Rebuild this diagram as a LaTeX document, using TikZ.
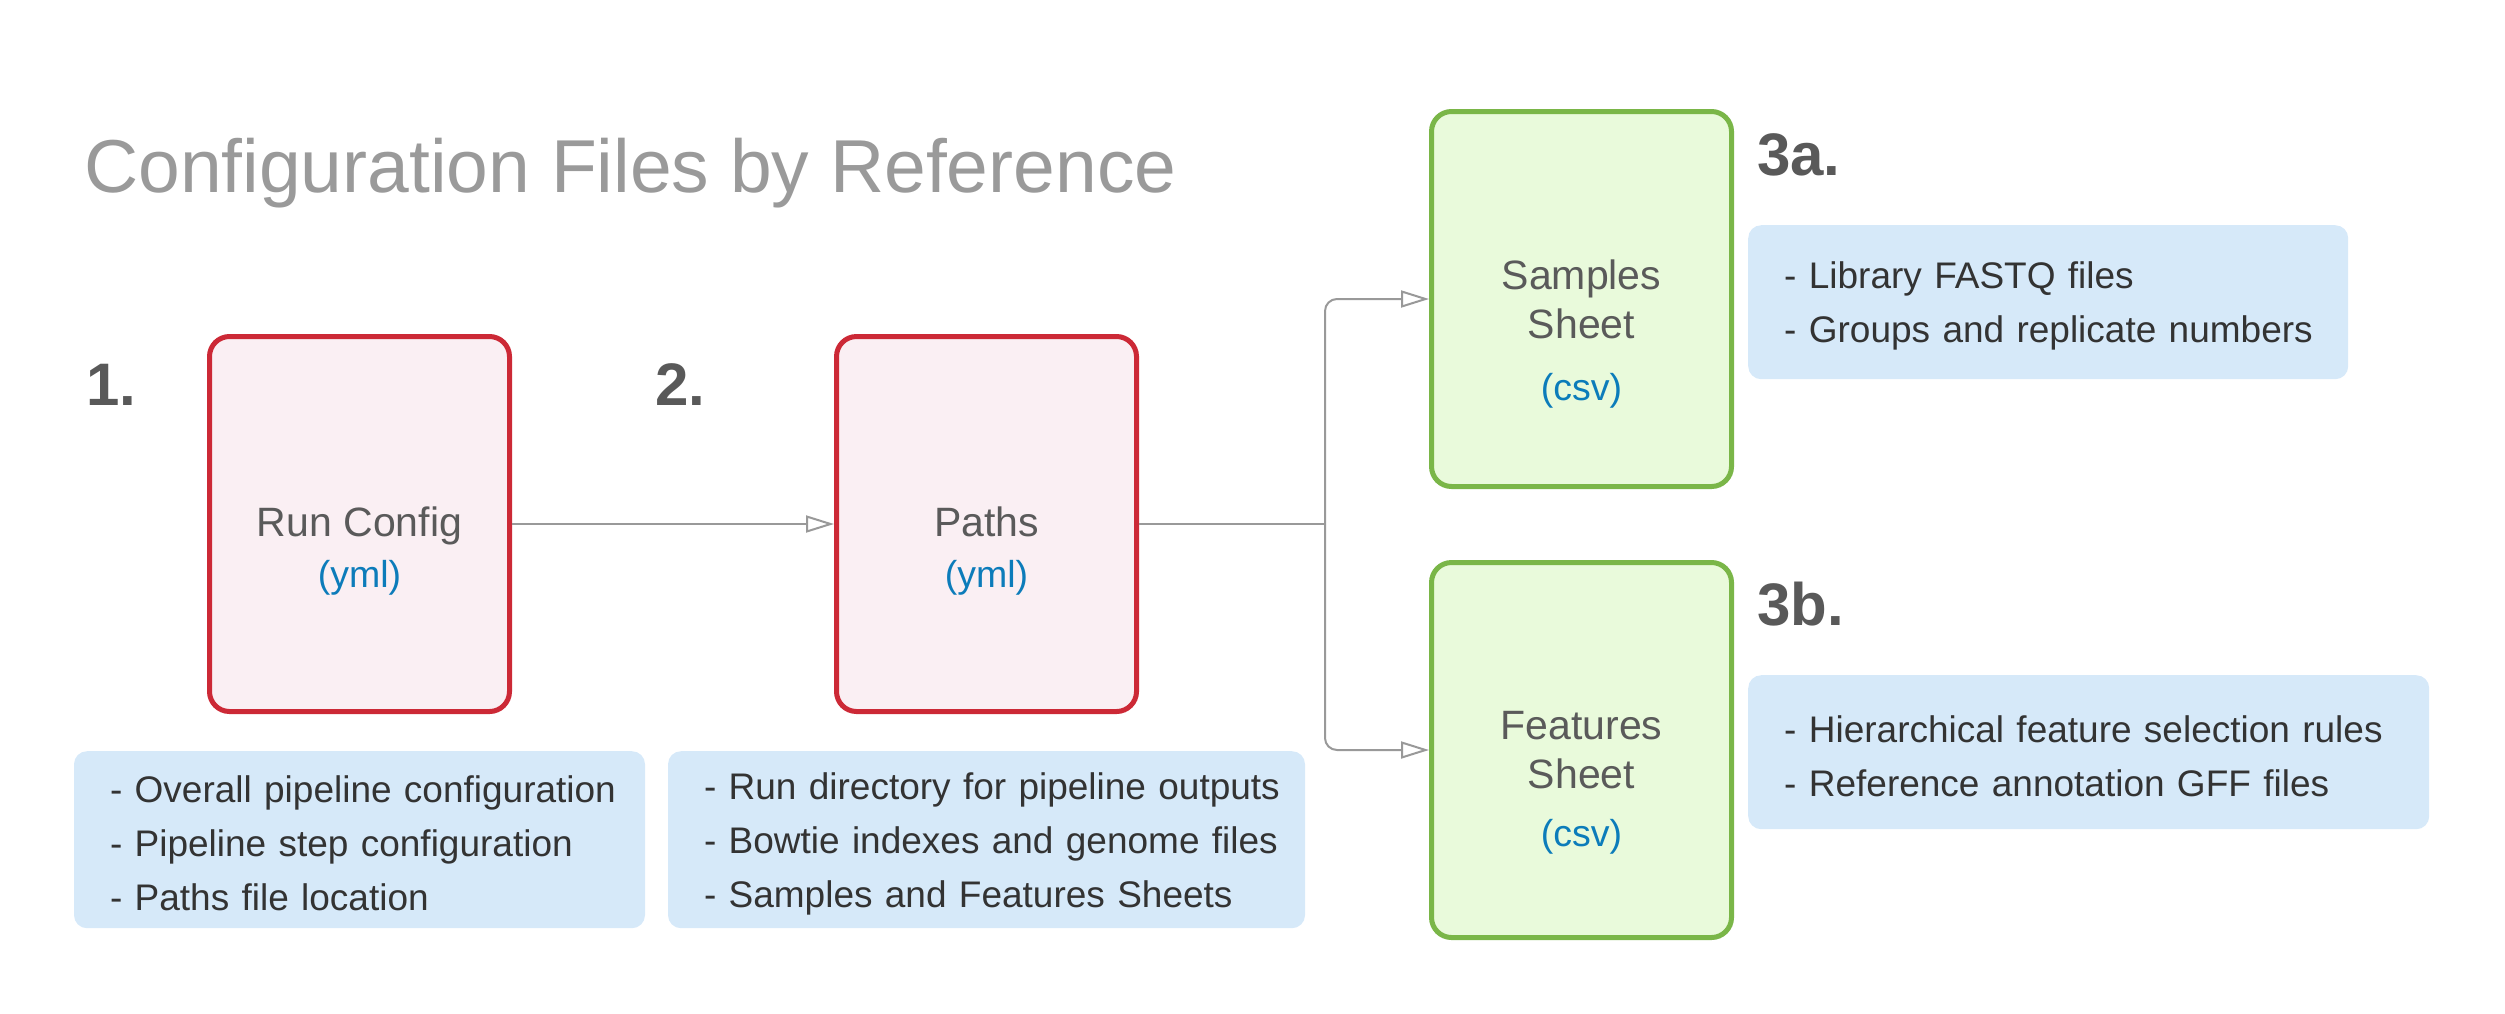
\documentclass[tikz,border=0pt]{standalone}
\usepackage{fontspec}
\setmainfont{Liberation Sans}
\usetikzlibrary{positioning}
\usetikzlibrary{arrows.meta}

\definecolor{redline}{HTML}{CC2936}
\definecolor{redfill}{HTML}{FAEFF3}
\definecolor{greenline}{HTML}{7AB648}
\definecolor{greenfill}{HTML}{E9FADB}
\definecolor{notefill}{HTML}{D6E9F9}
\definecolor{typeblue}{HTML}{0C7CBA}
\definecolor{boxtext}{HTML}{5A5A5A}
\definecolor{notetext}{HTML}{333333}
\definecolor{numtext}{HTML}{595959}
\definecolor{titlegray}{HTML}{9A9A9A}
\definecolor{linegray}{HTML}{999999}

\begin{document}
\begin{tikzpicture}[
		x=1pt, y=-1pt,
		node distance=37pt,
		file/.style={draw, rounded corners=20pt, line width=5pt, minimum width=300pt, minimum height=375pt, align=center, text=boxtext, font=\fontsize{41}{49}\selectfont},
		cfg/.style={file, draw=redline, fill=redfill, text height=32pt, text depth=8pt},
		sheet/.style={file, draw=greenline, fill=greenfill},
		ftype/.style={inner sep=0pt, anchor=base, text=typeblue, font=\fontsize{37.5}{45}\selectfont},
		note/.style={fill=notefill, rounded corners=13pt, inner xsep=0pt, inner ysep=0pt, text width=#1, align=left, text=notetext, font=\fontsize{37}{54}\selectfont, execute at begin node={\leftskip=36pt\relax}, execute at end node={\endgraf\vspace*{-8pt}}},
		num/.style={inner sep=0pt, anchor=base west, text=numtext, font=\fontsize{60}{72}\selectfont\bfseries},
		ln/.style={draw=linegray, line width=2pt},
		a/.style={ln, -{Triangle[open, length=28pt, width=17pt]}},
	]
		\useasboundingbox (0,0) rectangle (2505,1013);

		\node[anchor=base west, inner sep=0pt, text=titlegray, font=\fontsize{75}{90}\selectfont] (T) at (84,192) {Configuration Files by Reference};

		\node[cfg] (RC) at (359.5,524) {Run Config};
		\node[cfg, right=322pt of RC] (P) {Paths};
		\node[sheet] (S) at (1581.5,299) {Samples\\Sheet};
		\node[sheet, below=71pt of S] (F) {Features\\Sheet};

		\node[ftype] (RCt) at ([yshift=-63pt]RC.center) {(yml)};
		\node[ftype] (Pt) at ([yshift=-63pt]P.center) {(yml)};
		\node[ftype] (St) at ([yshift=-101pt]S.center) {(csv)};
		\node[ftype] (Ft) at ([yshift=-96pt]F.center) {(csv)};

		\node[num] (n1) at (86,405) {1.};
		\node[num] (n2) at (655,405) {2.};
		\node[num] (n3a) at (1757,175) {3a.};
		\node[num] (n3b) at (1757,625) {3b.};

		\node[note=571pt, minimum height=177pt, below=of RC] (RCd) {- Overall pipeline configuration\\- Pipeline step configuration\\- Paths file location};
		\node[note=637pt, minimum height=177pt, below=of P] (Pd) {- Run directory for pipeline outputs\\- Bowtie indexes and genome files\\- Samples and Features Sheets};
		\node[note=600pt, minimum height=154pt, anchor=north west] (Sd) at (1748,225) {- Library FASTQ files\\- Groups and replicate numbers};
		\node[note=681pt, minimum height=154pt, anchor=north west] (Fd) at (1748,675) {- Hierarchical feature selection rules\\- Reference annotation GFF files};

		\coordinate[right=186pt of P.east] (J);

		\draw[a] (RC) -- (P);
		\draw[ln] (P.east) -- (J);
		\draw[a, rounded corners=12pt] (J) |- (S.west);
		\draw[a, rounded corners=12pt] (J) |- (F.west);
	\end{tikzpicture}
\end{document}
